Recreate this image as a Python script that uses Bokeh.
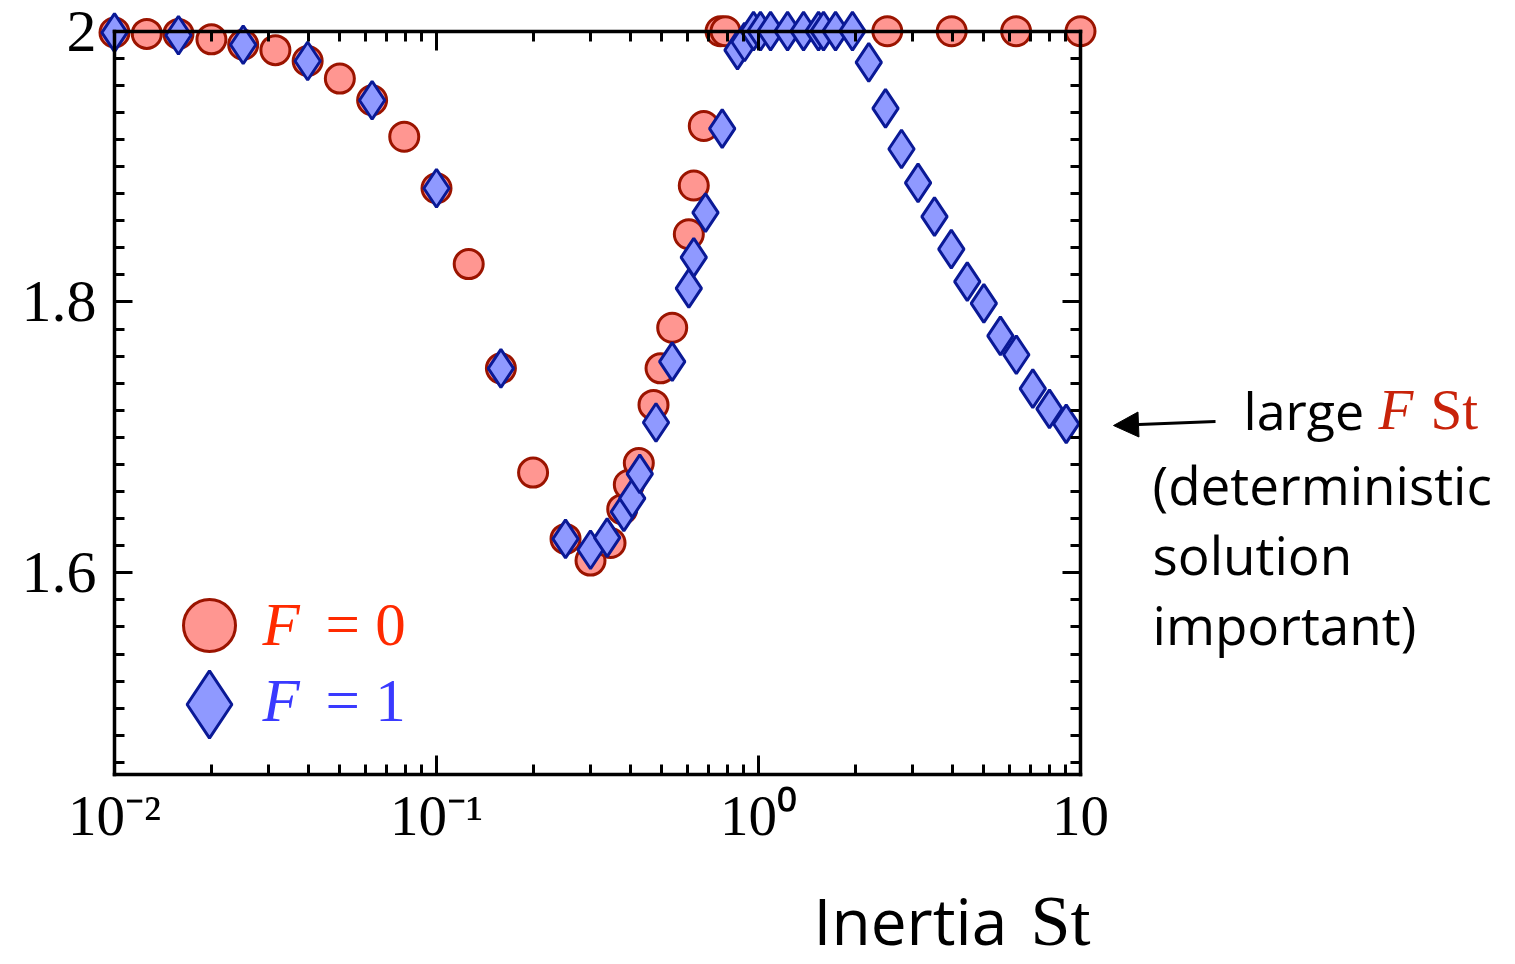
import numpy as np
from bokeh.plotting import figure
from bokeh.models import (Range1d, LogScale, LinearScale, LogAxis, LinearAxis, FixedTicker,
                          CustomJSTickFormatter, Legend, LegendItem, Label, Arrow, NormalHead,
                          ColumnDataSource)
from bokeh.core.properties import value
from bokeh.embed import file_html
from bokeh.resources import INLINE

# ---------------- data ----------------
st_f0 = [0.0100, 0.0126, 0.0158, 0.0200, 0.0251, 0.0316, 0.0398, 0.0501, 0.0631, 0.0794,
         0.1000, 0.1259, 0.1585, 0.1995, 0.2516, 0.3008, 0.3471, 0.3774, 0.3956, 0.4249,
         0.4720, 0.4963, 0.5395, 0.6076, 0.6295, 0.6762, 0.7621, 0.7898, 2.512, 3.981,
         6.310, 10.00]
bal_f0 = [1.999, 1.998, 1.998, 1.994, 1.990, 1.986, 1.978, 1.965, 1.949, 1.922,
          1.884, 1.828, 1.751, 1.674, 1.625, 1.609, 1.622, 1.647, 1.665, 1.681,
          1.724, 1.751, 1.781, 1.850, 1.886, 1.930, 2.000, 2.000, 2.000, 2.000,
          2.000, 2.000]

st_f1 = [0.0100, 0.0158, 0.0251, 0.0398, 0.0631, 0.1000, 0.1585,
         0.2516, 0.3008, 0.3388, 0.3818, 0.4054, 0.4279, 0.4805, 0.5395,
         0.6076, 0.6295, 0.6845, 0.7714, 0.8605, 0.9048,
         0.965, 1.014, 1.090, 1.231, 1.380, 1.536, 1.592, 1.735, 1.958,
         2.20, 2.48, 2.78, 3.13, 3.52, 3.97, 4.45, 5.01, 5.64, 6.32, 7.11, 8.01, 9.03]
bal_f1 = [1.999, 1.997, 1.990, 1.978, 1.949, 1.884, 1.751,
          1.625, 1.617, 1.626, 1.645, 1.655, 1.673, 1.711, 1.756,
          1.810, 1.833, 1.866, 1.928, 1.986, 1.992,
          2.000, 2.000, 2.000, 2.000, 2.000, 2.000, 2.000, 2.000, 2.000,
          1.977, 1.943, 1.913, 1.888, 1.863, 1.839, 1.815, 1.799, 1.775, 1.761, 1.736, 1.721, 1.710]

x_ticks = [0.01, 0.1, 1.0, 10.0]
x_tick_labels = ["10\u207b\u00b2", "10\u207b\u00b9", "10\u2070", "10"]
y_ticks = [1.6, 1.8, 2.0]
y_tick_labels = ["1.6", "1.8", "2"]
legend_symbol = "F"
legend_values = ["= 0", "= 1"]

# ---------------- layout (canvas px == page px) ----------------
W, H = 1510, 964
BOX_L, BOX_R, BOX_T, BOX_B = 114, 1080, 30.7, 774
X0, X1 = 0.01, 10.0
Y0, Y1 = 1.451, 2.0
ppd = (BOX_R - BOX_L) / np.log10(X1 / X0)
ppu = (BOX_B - BOX_T) / (Y1 - Y0)
SHIFT = 21  # label baseline correction (px)


def dx(px):  # canvas px -> data x
    return 10 ** (np.log10(X0) + (px - BOX_L) / ppd)


def dy(py):  # canvas px -> data y
    return Y1 - (py - BOX_T) / ppu


def dyb(py):  # desired text baseline (px) -> data y
    return dy(py - SHIFT)


p = figure(width=W, height=H, x_range=Range1d(dx(0), dx(W)), y_range=Range1d(dy(H), dy(0)),
           x_axis_type=None, y_axis_type=None, title=None,
           output_backend="svg", toolbar_location=None,
           min_border=0, min_border_left=0, min_border_right=0,
           min_border_top=0, min_border_bottom=0)
p.x_scale = LogScale()
p.y_scale = LinearScale()
p.outline_line_color = None
p.background_fill_color = "white"
p.border_fill_color = "white"

minor_x = [k * 10.0 ** e for e in (-2, -1, 0) for k in range(2, 10)]
minor_y = [round(1.46 + 0.02 * i, 2) for i in range(27)]
xticker = FixedTicker(ticks=x_ticks, minor_ticks=minor_x)
yticker = FixedTicker(ticks=y_ticks, minor_ticks=minor_y)

code = """
let k = -1;
for (let i = 0; i < vals.length; i++) {
  if (Math.abs(vals[i] - tick) < tol * Math.max(1, Math.abs(vals[i]))) k = i;
}
return k >= 0 ? txt[k] : "";
"""
xfmt = CustomJSTickFormatter(args=dict(vals=x_ticks, txt=x_tick_labels, tol=1e-6), code=code)
yfmt = CustomJSTickFormatter(args=dict(vals=y_ticks, txt=y_tick_labels, tol=1e-6), code=code)
nofmt = CustomJSTickFormatter(code="return '';")

TICK_FONT = "Liberation Serif"


def style(ax, size="57px"):
    ax.axis_line_width = 3.5
    ax.axis_line_color = "black"
    ax.axis_line_cap = "square"
    ax.major_tick_line_width = 3
    ax.minor_tick_line_width = 3
    ax.major_tick_line_color = "black"
    ax.minor_tick_line_color = "black"
    ax.major_label_text_font = TICK_FONT
    ax.major_label_text_font_size = size
    ax.major_label_text_color = "black"


# bottom axis (labels)
xb = LogAxis(ticker=xticker, formatter=xfmt, bounds=(X0, X1), fixed_location=Y0)
style(xb)
xb.major_tick_in, xb.major_tick_out = 19, 0
xb.minor_tick_in, xb.minor_tick_out = 10, 0
xb.major_label_standoff = 9
p.add_layout(xb, "below")

# top frame axis (at y = 2, ticks pointing down)
xt = LogAxis(ticker=xticker, formatter=nofmt, bounds=(X0, X1), fixed_location=Y1)
style(xt, "1px")
xt.major_tick_in, xt.major_tick_out = 0, 19
xt.minor_tick_in, xt.minor_tick_out = 0, 10
xt.major_label_standoff = 0
p.add_layout(xt, "below")

# left axis (labels)
yl = LinearAxis(ticker=yticker, formatter=yfmt, bounds=(Y0, Y1), fixed_location=X0)
style(yl, "60px")
yl.major_tick_in, yl.major_tick_out = 18, 0
yl.minor_tick_in, yl.minor_tick_out = 10, 0
yl.major_label_standoff = 18
p.add_layout(yl, "left")

# right frame axis
yr = LinearAxis(ticker=yticker, formatter=nofmt, bounds=(Y0, Y1), fixed_location=X1)
style(yr, "1px")
yr.major_tick_in, yr.major_tick_out = 18, 0
yr.minor_tick_in, yr.minor_tick_out = 10, 0
yr.major_label_standoff = 0
p.add_layout(yr, "right")

# ---------------- data marks ----------------
src0 = ColumnDataSource(dict(x=st_f0, y=bal_f0))
src1 = ColumnDataSource(dict(x=st_f1, y=bal_f1))
r0 = p.scatter("x", "y", source=src0, marker="circle", size=29,
               fill_color="#ff9691", line_color="#9b1400", line_width=3)
r1 = p.scatter("x", "y", source=src1, marker="diamond", size=38,
               fill_color="#8f99ff", line_color="#0a1996", line_width=3)

# ---------------- legend (glyphs) + legend texts ----------------
common = dict(padding=0, margin=0, spacing=0, border_line_color=None,
              background_fill_alpha=0, label_text_font_size="1px", label_standoff=0)
G0, G1 = 130, 168
leg0 = Legend(items=[LegendItem(label=value(" "), renderers=[r0])],
              location=(209 - G0 / 2, H - 625 - G0 / 2), glyph_width=G0, glyph_height=G0, **common)
leg1 = Legend(items=[LegendItem(label=value(" "), renderers=[r1])],
              location=(209 - G1 / 2, H - 704 - G1 / 2), glyph_width=G1, glyph_height=G1, **common)
p.add_layout(leg0)
p.add_layout(leg1)

lab = dict(text_baseline="alphabetic", text_align="left")
for (val, by, col) in [(legend_values[0], 645, "#ff2a00"), (legend_values[1], 721, "#3a3aff")]:
    p.add_layout(Label(x=dx(262), y=dyb(by), text=legend_symbol, text_font="Liberation Serif",
                       text_font_style="italic", text_font_size="61px", text_color=col, **lab))
    p.add_layout(Label(x=dx(325), y=dyb(by), text=val, text_font="Liberation Serif",
                       text_font_size="61px", text_color=col, **lab))

# ---------------- annotations ----------------
SANS = "Open Sans"
RED = "#c8230a"
p.add_layout(Label(x=dx(1243), y=dyb(430), text="large", text_font=SANS,
                   text_font_size="52px", text_color="black", **lab))
p.add_layout(Label(x=dx(1378), y=dyb(430), text="F", text_font="Liberation Serif",
                   text_font_style="italic", text_font_size="57px", text_color=RED, **lab))
p.add_layout(Label(x=dx(1430), y=dyb(430), text="St", text_font="Liberation Serif",
                   text_font_size="57px", text_color=RED, **lab))
for txt, by in [("(deterministic", 505), ("solution", 575), ("important)", 645)]:
    p.add_layout(Label(x=dx(1152), y=dyb(by), text=txt, text_font=SANS,
                       text_font_size="53px", text_color="black", **lab))

p.add_layout(Arrow(end=NormalHead(size=25, fill_color="black", line_color="black", line_width=1),
                   x_start=dx(1215), y_start=dy(421), x_end=dx(1113), y_end=dy(425),
                   line_width=3, line_color="black"))

# x-axis title
p.add_layout(Label(x=dx(813), y=dyb(941), text="Inertia", text_font=SANS,
                   text_font_size="64px", text_color="black", **lab))
p.add_layout(Label(x=dx(1030), y=dyb(941), text="St", text_font="Liberation Serif",
                   text_font_size="72px", text_color="black", **lab))

open("out.html", "w").write(file_html(p, INLINE, title="Inertia St"))
